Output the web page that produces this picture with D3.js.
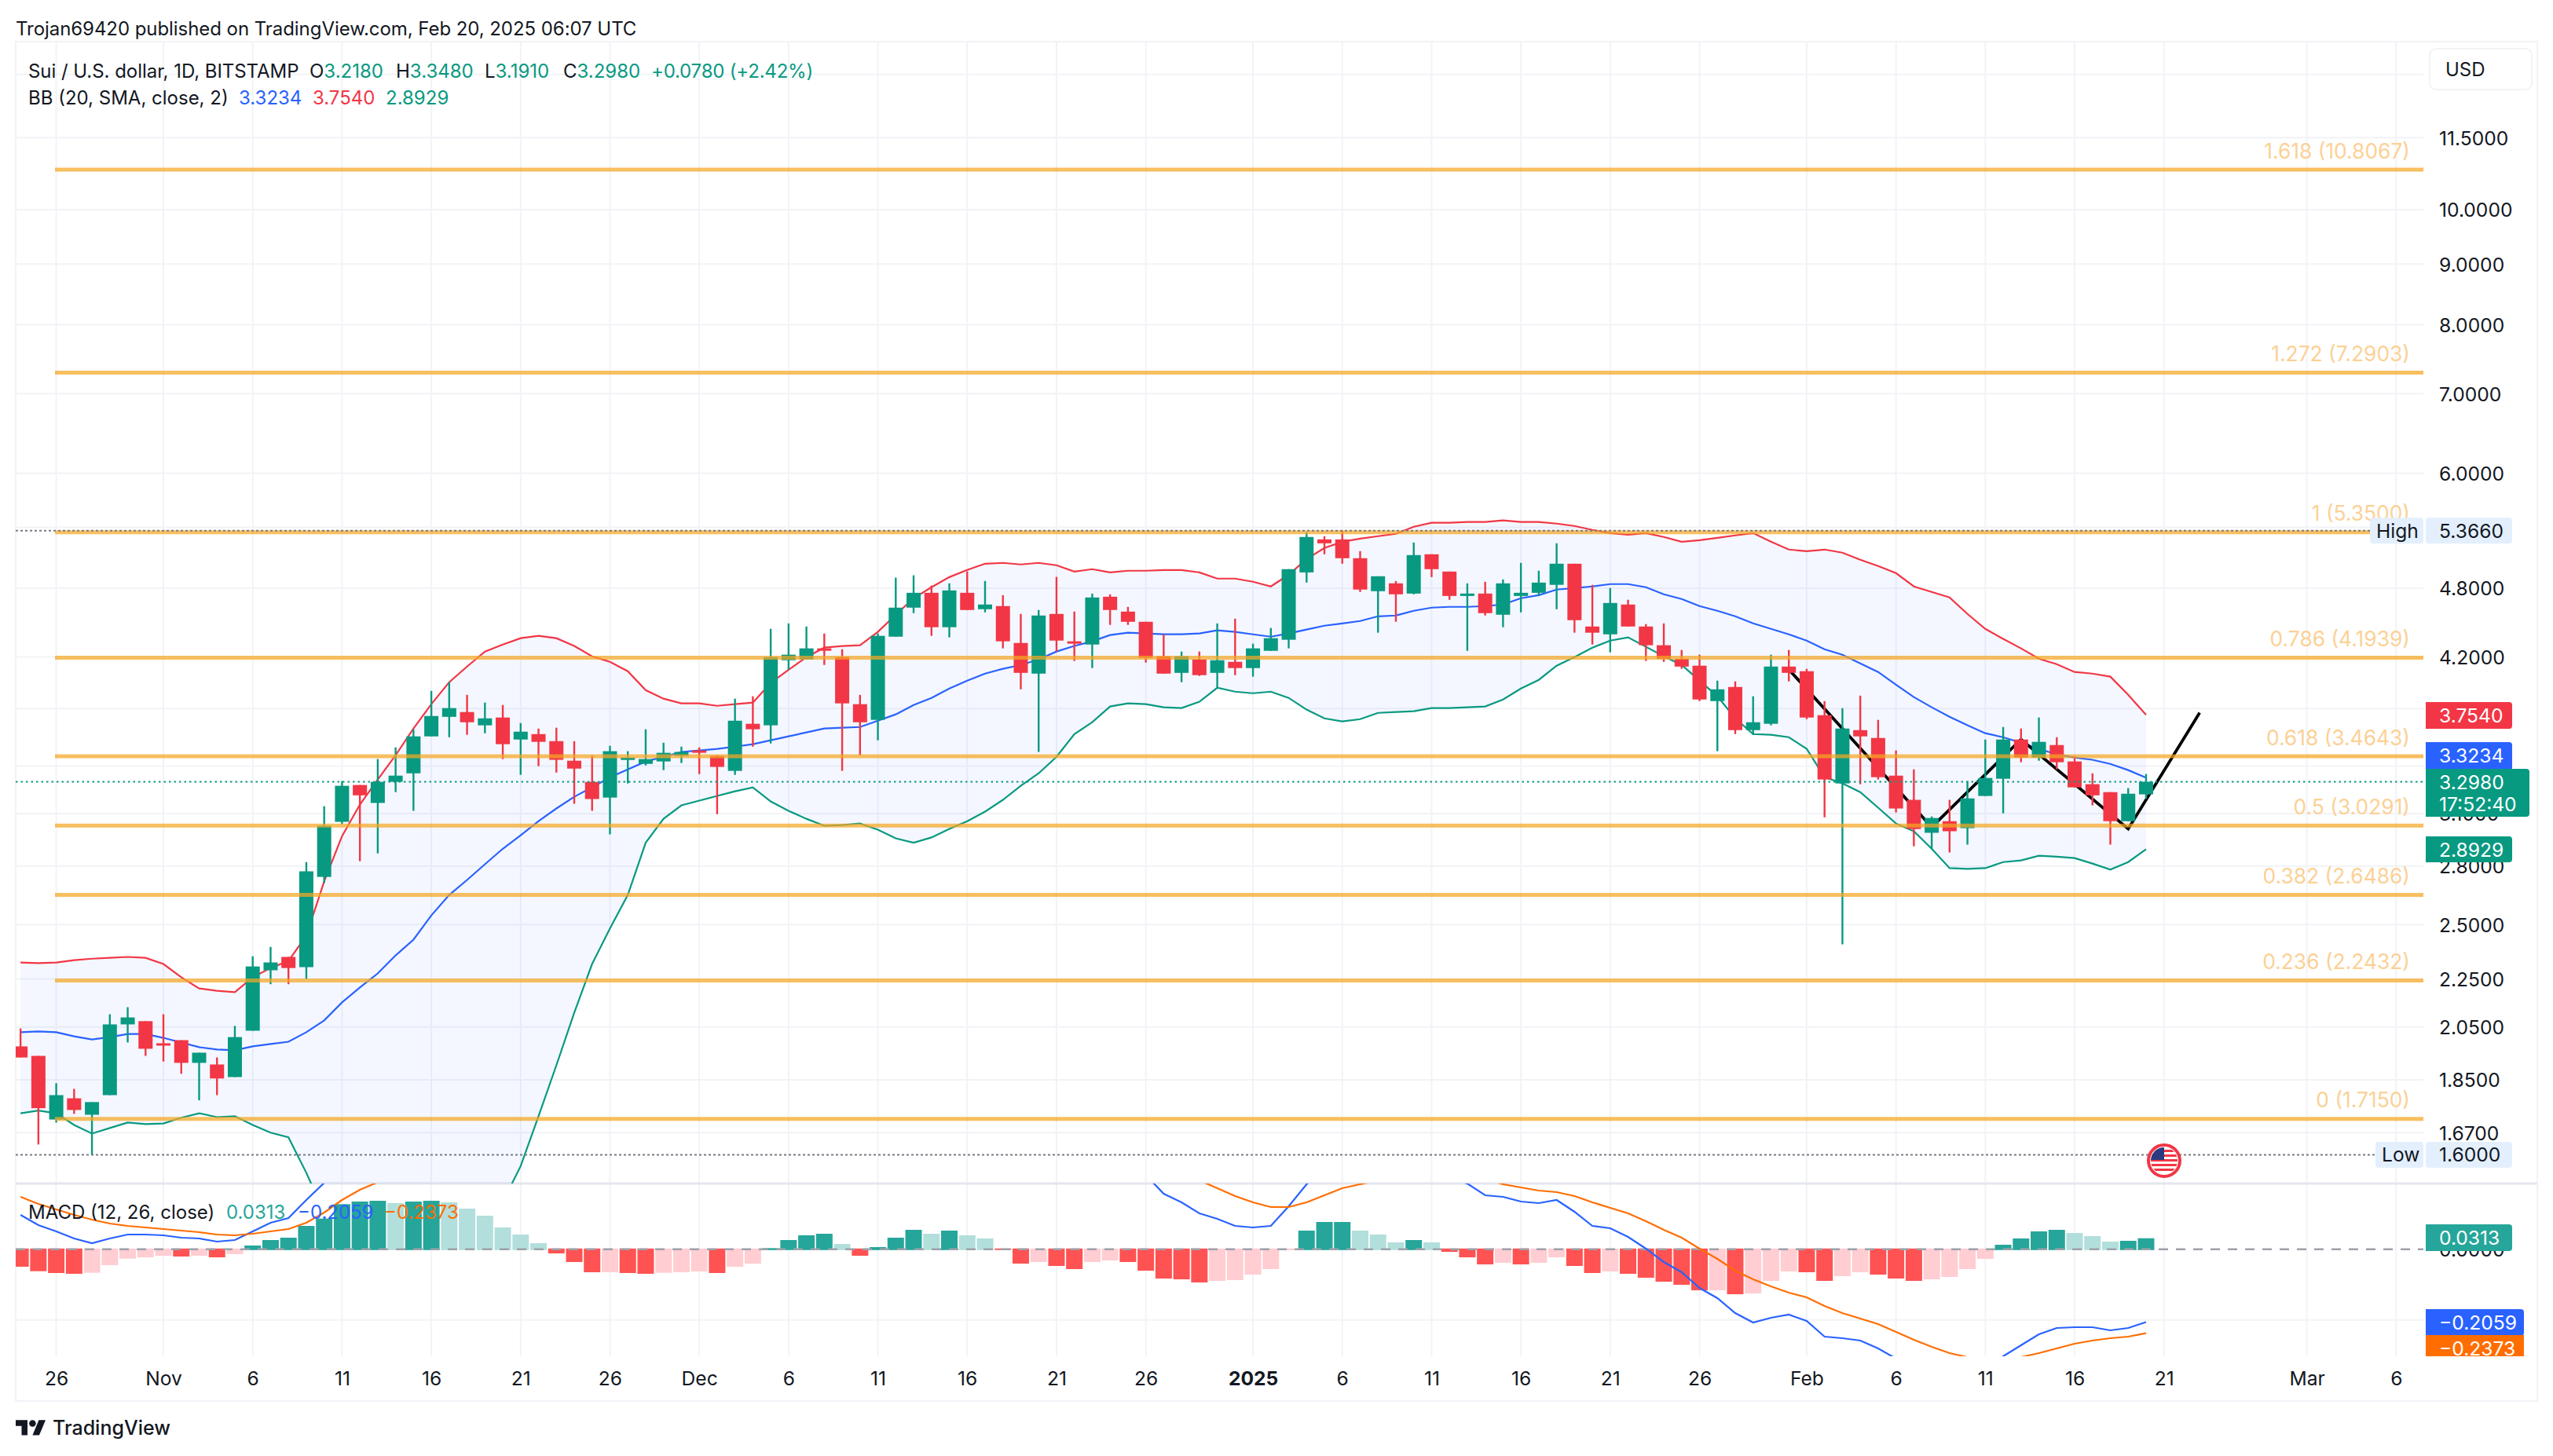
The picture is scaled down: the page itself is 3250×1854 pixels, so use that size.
<!DOCTYPE html>
<html><head><meta charset="utf-8">
<script src="https://cdn.jsdelivr.net/npm/d3@7"></script>
<style>html,body{margin:0;padding:0;background:#fff}svg{display:block}text{font-family:Inter,"Noto Sans",sans-serif}</style>
</head><body><svg id="c" width="3250" height="1854"></svg>
<script>
// ---- data (first bar is 24 Oct 2024, one bar per day) ----
const firstDay = "2024-10-24";
const opens = [1.974,1.938,1.713,1.785,1.729,1.796,2.060,2.073,1.986,1.998,1.912,1.906,1.860,2.035,2.288,2.348,2.302,2.742,3.051,3.277,3.165,3.297,3.352,3.601,3.740,3.775,3.679,3.735,3.579,3.617,3.568,3.435,3.297,3.198,3.446,3.414,3.430,3.467,3.504,3.467,3.368,3.690,3.679,4.174,4.180,4.271,4.199,3.833,3.718,4.369,4.622,4.757,4.450,4.757,4.608,4.636,4.316,4.067,4.566,4.330,4.303,4.721,4.587,4.497,4.206,4.073,4.180,4.073,4.161,4.111,4.251,4.343,4.949,5.276,5.276,5.087,4.772,4.845,4.750,5.126,4.957,4.728,4.750,4.559,4.728,4.757,4.831,5.033,4.456,4.389,4.650,4.456,4.297,4.186,4.130,3.856,3.963,3.645,3.690,4.123,4.086,3.752,3.287,3.645,3.590,3.337,3.184,2.987,3.055,3.014,3.208,3.317,3.579,3.456,3.541,3.430,3.282,3.232,3.055,3.218];
const highs = [2.044,1.938,1.838,1.818,1.772,2.101,2.130,2.073,2.101,1.998,1.950,1.932,2.054,2.351,2.394,2.348,2.822,3.145,3.302,3.277,3.446,3.525,3.651,3.933,4.000,3.903,3.845,3.827,3.695,3.656,3.662,3.568,3.472,3.536,3.499,3.651,3.557,3.530,3.525,3.472,3.874,3.892,4.436,4.483,4.456,4.396,4.264,3.903,4.396,4.899,4.921,4.824,4.845,4.958,4.867,4.735,4.566,4.601,4.906,4.587,4.750,4.743,4.629,4.497,4.389,4.245,4.245,4.483,4.524,4.310,4.443,4.980,5.350,5.309,5.366,5.157,4.912,4.867,5.244,5.126,4.957,4.845,4.860,4.882,5.041,4.965,5.236,5.033,4.831,4.801,4.693,4.477,4.483,4.258,4.219,4.012,4.006,3.892,4.219,4.258,4.105,3.856,3.804,3.897,3.718,3.504,3.378,3.083,3.184,3.302,3.579,3.667,3.656,3.735,3.595,3.467,3.352,3.232,3.257,3.348];
const lows = [1.932,1.632,1.703,1.732,1.600,1.796,1.989,1.938,1.917,1.872,1.778,1.796,1.860,2.035,2.227,2.227,2.250,2.710,3.037,2.827,2.870,3.232,3.117,3.601,3.595,3.612,3.623,3.446,3.342,3.399,3.357,3.160,3.117,2.978,3.287,3.404,3.373,3.420,3.347,3.097,3.342,3.530,3.552,4.098,4.180,4.136,3.368,3.472,3.574,4.369,4.573,4.376,4.363,4.601,4.580,4.271,3.945,3.494,4.245,4.168,4.111,4.470,4.470,4.155,4.067,4.000,4.049,3.957,4.055,4.043,4.251,4.271,4.852,5.126,5.033,4.765,4.403,4.497,4.743,4.904,4.693,4.251,4.552,4.450,4.580,4.728,4.608,4.403,4.303,4.238,4.456,4.168,4.161,4.105,3.856,3.499,3.617,3.612,3.679,4.006,3.723,3.078,2.406,3.282,3.312,3.107,2.910,2.892,2.875,2.919,3.208,3.102,3.425,3.435,3.378,3.262,3.150,2.919,3.055,3.191];
const closes = [1.932,1.751,1.796,1.745,1.772,2.060,2.088,1.965,1.980,1.912,1.950,1.855,2.010,2.305,2.323,2.298,2.772,3.028,3.272,3.212,3.297,3.337,3.601,3.746,3.804,3.701,3.729,3.547,3.634,3.563,3.441,3.383,3.189,3.499,3.456,3.446,3.488,3.494,3.494,3.394,3.712,3.651,4.199,4.219,4.271,4.258,3.839,3.701,4.376,4.622,4.757,4.450,4.779,4.601,4.650,4.330,4.073,4.552,4.336,4.316,4.714,4.601,4.497,4.193,4.067,4.206,4.055,4.174,4.111,4.271,4.356,4.980,5.301,5.236,5.087,4.787,4.912,4.743,5.118,4.980,4.728,4.750,4.573,4.845,4.757,4.852,5.033,4.511,4.403,4.664,4.456,4.297,4.186,4.123,3.868,3.945,3.645,3.701,4.123,4.073,3.735,3.312,3.656,3.601,3.327,3.131,3.009,3.074,2.996,3.193,3.322,3.579,3.456,3.563,3.425,3.262,3.212,3.055,3.222,3.298];
const bbUpper = [2.323,2.320,2.323,2.333,2.340,2.344,2.348,2.344,2.316,2.257,2.209,2.199,2.193,2.257,2.298,2.330,2.447,2.718,2.968,3.155,3.312,3.472,3.656,3.833,4.000,4.123,4.245,4.303,4.356,4.376,4.356,4.291,4.206,4.161,4.086,3.939,3.874,3.839,3.839,3.821,3.833,3.845,3.994,4.098,4.199,4.277,4.291,4.297,4.410,4.559,4.707,4.809,4.904,4.972,5.033,5.041,5.026,5.041,5.018,4.957,4.980,4.949,4.965,4.965,4.972,4.972,4.949,4.890,4.890,4.860,4.816,4.927,5.079,5.189,5.252,5.284,5.309,5.333,5.407,5.449,5.449,5.457,5.457,5.474,5.457,5.457,5.440,5.415,5.374,5.341,5.325,5.341,5.301,5.252,5.268,5.292,5.317,5.341,5.252,5.173,5.157,5.173,5.142,5.072,5.010,4.942,4.816,4.765,4.714,4.566,4.436,4.350,4.271,4.186,4.142,4.080,4.067,4.043,3.903,3.754];
const bbBasis = [2.029,2.032,2.029,2.013,2.001,2.010,2.022,2.022,2.007,1.989,1.971,1.962,1.959,1.974,1.983,1.992,2.029,2.076,2.150,2.213,2.274,2.355,2.428,2.545,2.648,2.726,2.810,2.896,2.973,3.055,3.131,3.203,3.262,3.327,3.378,3.430,3.461,3.494,3.504,3.515,3.530,3.547,3.574,3.601,3.629,3.656,3.662,3.667,3.712,3.758,3.827,3.880,3.951,4.012,4.067,4.105,4.136,4.180,4.245,4.291,4.330,4.383,4.403,4.396,4.389,4.389,4.396,4.423,4.410,4.389,4.369,4.396,4.430,4.463,4.483,4.504,4.545,4.552,4.594,4.622,4.629,4.629,4.636,4.650,4.707,4.735,4.787,4.801,4.816,4.838,4.838,4.809,4.743,4.700,4.636,4.594,4.545,4.483,4.436,4.389,4.336,4.264,4.219,4.148,4.080,3.981,3.886,3.810,3.740,3.679,3.623,3.595,3.557,3.515,3.477,3.456,3.441,3.414,3.373,3.3234];
const bbLower = [1.734,1.743,1.734,1.695,1.667,1.685,1.703,1.698,1.700,1.719,1.734,1.721,1.724,1.695,1.670,1.655,1.545,1.43,1.35,1.29,1.25,1.24,1.19,1.26,1.30,1.32,1.365,1.46,1.565,1.724,1.903,2.107,2.316,2.481,2.648,2.930,3.069,3.150,3.179,3.208,3.237,3.262,3.174,3.117,3.069,3.028,3.032,3.041,3.005,2.955,2.930,2.960,3.009,3.055,3.112,3.184,3.272,3.352,3.461,3.617,3.701,3.816,3.839,3.833,3.810,3.804,3.851,3.957,3.927,3.915,3.927,3.880,3.793,3.729,3.707,3.723,3.769,3.775,3.781,3.804,3.804,3.810,3.816,3.868,3.951,4.018,4.130,4.199,4.277,4.336,4.363,4.284,4.206,4.136,4.012,3.892,3.729,3.617,3.612,3.595,3.515,3.327,3.287,3.232,3.136,3.041,2.996,2.896,2.789,2.785,2.789,2.822,2.831,2.857,2.852,2.844,2.814,2.781,2.822,2.8929];
const macdLine = [.0973,.0684,.0507,.0307,.0173,.0307,.0418,.0418,.0396,.0329,.0307,.0218,.0262,.0507,.0751,.0884,.1396,.188,.267,.303,.327,.356,.395,.432,.463,.475,.48,.462,.452,.432,.398,.364,.32,.305,.288,.271,.259,.245,.237,.218,.226,.225,.268,.296,.32,.334,.31,.272,.296,.333,.365,.364,.388,.385,.381,.348,.30,.294,.273,.254,.264,.258,.244,.21,.1573,.1329,.1018,.0862,.0662,.0618,.0662,.1218,.184,.23,.25,.237,.237,.225,.236,.235,.203,.186,.1529,.1484,.1351,.1307,.1396,.1062,.0662,.0596,.0351,.0018,-.036,-.0649,-.1093,-.1382,-.1804,-.2071,-.1938,-.1849,-.2027,-.2471,-.2516,-.2582,-.2804,-.3093,-.3427,-.365,-.376,-.376,-.343,-.3027,-.2716,-.2404,-.2227,-.2204,-.2204,-.2293,-.2227,-.2059];
const signalLine = [.1484,.1284,.1129,.0973,.084,.0729,.0662,.0618,.0573,.0529,.0484,.0418,.0396,.044,.0507,.0573,.0751,.104,.1396,.1684,.19,.225,.26,.295,.33,.36,.385,.40,.41,.415,.41,.40,.385,.37,.355,.34,.325,.31,.30,.285,.275,.265,.265,.27,.28,.29,.295,.29,.29,.30,.31,.32,.335,.345,.35,.35,.34,.33,.32,.31,.30,.29,.28,.27,.25,.22,.195,.1729,.1507,.1329,.1196,.1196,.1329,.1529,.1729,.184,.195,.205,.21,.215,.21,.209,.20,.184,.1751,.1662,.1618,.1507,.1329,.1173,.1018,.0796,.0551,.0329,.0018,-.0271,-.0604,-.0849,-.1049,-.1227,-.136,-.1604,-.1804,-.196,-.2116,-.2338,-.256,-.276,-.2938,-.3049,-.3116,-.3138,-.3049,-.2938,-.2804,-.2671,-.2582,-.2516,-.2471,-.2373];
const macdHist = [-.0493,-.0619,-.0671,-.0693,-.0664,-.0449,-.0264,-.0227,-.0182,-.0204,-.0182,-.0227,-.0138,.0107,.0262,.0329,.0662,.0870,.1277,.1351,.1373,.1307,.1351,.1373,.1329,.1151,.0951,.0618,.0418,.0173,-.0116,-.0360,-.0649,-.0649,-.0671,-.0693,-.0664,-.0649,-.0627,-.0671,-.0493,-.0404,.0033,.0262,.0396,.0440,.0151,-.0182,.0062,.0329,.0551,.0440,.0529,.0396,.0307,-.0019,-.0404,-.0360,-.0471,-.0560,-.0360,-.0316,-.0360,-.0604,-.0827,-.0849,-.0938,-.0893,-.0871,-.0716,-.0560,-.0027,.0529,.0773,.0773,.0529,.0418,.0196,.0262,.0196,-.0071,-.0227,-.0427,-.0382,-.0427,-.0382,-.0227,-.0471,-.0671,-.0627,-.0693,-.0804,-.0916,-.1004,-.1160,-.1160,-.1271,-.1249,-.0893,-.0627,-.0649,-.0893,-.0760,-.0649,-.0716,-.0827,-.0893,-.0849,-.0782,-.0560,-.0271,.0129,.0307,.0507,.0551,.0462,.0373,.0218,.0240,.0313];
const fibLevels = [1.618,1.272,1,0.786,0.618,0.5,0.382,0.236,0];
const fibPrices = [10.8067,7.2903,5.35,4.1939,3.4643,3.0291,2.6486,2.2432,1.715];
const priceTicks = [13,11.5,10,9,8,7,6,5.4,4.8,4.2,3.8,3.4,3.1,2.8,2.5,2.25,2.05,1.85,1.67];
const macdTicks = [0,-0.2];
const dateTicks = ["2024-10-26","2024-11-01","2024-11-06","2024-11-11","2024-11-16","2024-11-21","2024-11-26","2024-12-01","2024-12-06","2024-12-11","2024-12-16","2024-12-21","2024-12-26","2025-01-01","2025-01-06","2025-01-11","2025-01-16","2025-01-21","2025-01-26","2025-02-01","2025-02-06","2025-02-11","2025-02-16","2025-02-21","2025-03-01","2025-03-06"];
const dateLabels = ["26","Nov","6","11","16","21","26","Dec","6","11","16","21","26","2025","6","11","16","21","26","Feb","6","11","16","21","Mar","6"];
const patternDates = ["2025-01-31","2025-02-08","2025-02-13","2025-02-19","2025-02-23"];
const patternPrices = [4.10,3.02,3.58,3.01,3.77];
const highPrice = 5.366, lowPrice = 1.6, lastClose = 3.298;

// ---- layout ----
const L=20,R=3085,F=3230,T=53,M=1507,P=1727,B=1784,AX=3105,BX=3088;
const GREEN="#089981",RED="#f23645",BLUE="#2962ff",ORANGE="#ff6d00",INK="#131722",GRID="#f1f3f7",TEAL="#26a69a";
const FS=24, AFS=24.6;
const parse=d3.utcParse("%Y-%m-%d");
const days=d3.utcDay.range(parse(firstDay),d3.utcDay.offset(parse(firstDay),opens.length));
const x=d3.scaleUtc().domain([parse("2024-10-26"),parse("2025-02-21")]).range([71.6,2754.7]);
const y=d3.scaleLog().domain([10.8067,1.715]).range([216,1424.8]);
const ym=d3.scaleLinear().domain([0,-0.2]).range([1590.8,1680.8]);
const svg=d3.select("#c");
const defs=svg.append("defs");
defs.append("clipPath").attr("id","mainClip").append("rect").attr("x",L).attr("y",T).attr("width",R-L).attr("height",M-T);
defs.append("clipPath").attr("id","macdClip").append("rect").attr("x",L).attr("y",M).attr("width",R-L).attr("height",P-M);

// grid
const grid=svg.append("g").attr("stroke",GRID).attr("stroke-width",2);
grid.selectAll(".v").data(dateTicks).join("line").attr("x1",d=>x(parse(d))).attr("x2",d=>x(parse(d))).attr("y1",T).attr("y2",P);
grid.selectAll(".h").data(priceTicks).join("line").attr("x1",L).attr("x2",R).attr("y1",d=>y(d)).attr("y2",d=>y(d));
grid.selectAll(".m").data(macdTicks.slice(1)).join("line").attr("x1",L).attr("x2",R).attr("y1",d=>ym(d)).attr("y2",d=>ym(d));
// frame
const frame=svg.append("g").attr("stroke",GRID).attr("stroke-width",2).attr("fill","none");
frame.append("rect").attr("x",L).attr("y",T).attr("width",F-L).attr("height",B-T);
svg.append("line").attr("x1",L).attr("x2",F).attr("y1",M).attr("y2",M).attr("stroke","#e4e6ee").attr("stroke-width",3);

// main pane
const main=svg.append("g").attr("clip-path","url(#mainClip)");
const idx=d3.range(opens.length);
main.append("path").datum(idx).attr("fill","rgba(41,98,255,0.05)")
  .attr("d",d3.area().x(i=>x(days[i])).y0(i=>y(bbLower[i])).y1(i=>y(bbUpper[i])));
svg.append("g").selectAll("line").data(fibPrices).join("line")
  .attr("x1",70).attr("x2",R).attr("y1",d=>y(d)).attr("y2",d=>y(d))
  .attr("stroke","#f5a623").attr("stroke-opacity",.72).attr("stroke-width",5);
const lineOf=arr=>d3.line().x(i=>x(days[i])).y(i=>y(arr[i]));
[[bbUpper,RED],[bbBasis,BLUE],[bbLower,GREEN]].forEach(([a,c])=>{
  main.append("path").datum(idx).attr("fill","none").attr("stroke",c).attr("stroke-width",2.2).attr("d",lineOf(a));
});
main.append("path").datum(d3.range(patternDates.length)).attr("fill","none").attr("stroke","#000").attr("stroke-width",3.8)
  .attr("stroke-linejoin","miter").attr("d",d3.line().x(i=>x(parse(patternDates[i]))).y(i=>y(patternPrices[i])));
const colorOf=i=>closes[i]>=opens[i]?GREEN:RED;
main.selectAll(".wick").data(idx).join("line").attr("x1",i=>x(days[i])).attr("x2",i=>x(days[i]))
  .attr("y1",i=>y(highs[i])).attr("y2",i=>y(lows[i])).attr("stroke",colorOf).attr("stroke-width",2.4);
main.selectAll(".body").data(idx).join("rect").attr("x",i=>x(days[i])-9).attr("width",18)
  .attr("y",i=>y(Math.max(opens[i],closes[i])))
  .attr("height",i=>Math.max(3,y(Math.min(opens[i],closes[i]))-y(Math.max(opens[i],closes[i]))))
  .attr("fill",colorOf);

// dotted lines
const dotted=(py,c,dash)=>svg.append("line").attr("x1",L).attr("x2",R).attr("y1",py).attr("y2",py).attr("stroke",c).attr("stroke-width",2).attr("stroke-dasharray",dash);
dotted(y(highPrice),"#787b86","3 3");
dotted(y(lowPrice),"#787b86","3 3");
dotted(y(lastClose),GREEN,"2.5 4");

// fib labels
svg.append("g").selectAll("text").data(fibPrices).join("text")
  .attr("x",3068).attr("y",d=>y(d)-24).attr("dy",".36em").attr("text-anchor","end")
  .attr("font-size",26.4).attr("fill","#fbd196")
  .text((d,i)=>`${fibLevels[i]} (${d.toFixed(4)})`);

// MACD pane
const macd=svg.append("g").attr("clip-path","url(#macdClip)");
const histColor=i=>{const v=macdHist[i],p=i?macdHist[i-1]:Infinity;
  if(v>=0) return v>=p?TEAL:"#b2dfdb";
  return v<p||!i?"#ff5252":"#ffcdd2";};
macd.selectAll("rect").data(idx).join("rect").attr("x",i=>x(days[i])-10.5).attr("width",21)
  .attr("y",i=>macdHist[i]>=0?ym(macdHist[i]):ym(0)-1)
  .attr("height",i=>macdHist[i]>=0?ym(0)+1-ym(macdHist[i]):ym(macdHist[i])-ym(0)+1)
  .attr("fill",histColor);
macd.append("line").attr("x1",L).attr("x2",R).attr("y1",ym(0)).attr("y2",ym(0)).attr("stroke","#9ea1aa").attr("stroke-width",2.5).attr("stroke-dasharray","12 10");
[[macdLine,BLUE],[signalLine,ORANGE]].forEach(([a,c])=>{
  macd.append("path").datum(idx).attr("fill","none").attr("stroke",c).attr("stroke-width",2.2)
    .attr("d",d3.line().x(i=>x(days[i])).y(i=>ym(a[i])));
});

// axes
const fmt=d=>d3.format(".4f")(d).replace("-","\u2212");
const clean=(g,fs)=>{g.select(".domain").remove();g.selectAll(".tick line").remove();
  g.selectAll("text").attr("font-size",fs).attr("fill",INK).attr("font-family",'Inter,"Noto Sans",sans-serif');};
svg.append("g").attr("transform",`translate(${AX},1)`).call(d3.axisRight(y).tickValues(priceTicks).tickFormat(fmt).tickSize(0).tickPadding(0)).call(clean,AFS);
svg.append("g").attr("transform",`translate(${AX},1)`).call(d3.axisRight(ym).tickValues(macdTicks).tickFormat(fmt).tickSize(0).tickPadding(0)).call(clean,AFS);
const xg=svg.append("g").attr("transform","translate(0,1747)");
xg.call(d3.axisBottom(x).tickValues(dateTicks.map(parse)).tickFormat((d,i)=>dateLabels[i]).tickSize(0).tickPadding(0)).call(clean,AFS);
xg.selectAll("text").attr("font-weight",(d,i)=>dateLabels[i]==="2025"?700:400);

// right labels
const box=(px,py,w,h,fill)=>svg.append("path").attr("fill",fill)
  .attr("d",`M${px},${py}h${w-4}a4,4 0 0 1 4,4v${h-8}a4,4 0 0 1 -4,4h${-(w-4)}z`);
const label=(tx,py,t,c,a,fs,sp)=>svg.append("text").attr("x",tx).attr("y",py).attr("dy",".36em").attr("font-size",fs||AFS).attr("letter-spacing",sp||0).attr("fill",c).attr("text-anchor",a||"start").text(t);
// High / Low
[[highPrice,"High"],[lowPrice,"Low"]].forEach(([v,t])=>{
  const py=y(v);
  svg.append("rect").attr("x",t==="High"?3017:3024).attr("y",py-16.5).attr("width",t==="High"?68:61).attr("height",33).attr("rx",4).attr("fill","#e3effd");
  svg.append("rect").attr("x",BX).attr("y",py-16.5).attr("width",110).attr("height",33).attr("rx",4).attr("fill","#e3effd");
  label(t==="High"?3025:3032,py,t,INK);
  label(AX,py,d3.format(".4f")(v),INK);
});
box(BX,894,110,34,RED); label(AX,911,"3.7540","#fff");
box(BX,945,110,36,BLUE); label(AX,962,"3.3234","#fff");
box(BX,979,132,61,GREEN); label(AX,996,"3.2980","#fff"); label(AX,1024,"17:52:40","#fff");
box(BX,1065,110,33,GREEN); label(AX,1082,"2.8929","#fff");
box(BX,1559,110,34,TEAL); label(AX,1576,"0.0313","#fff");
box(BX,1667,125,34,BLUE); label(AX,1684,"\u22120.2059","#fff");
svg.append("rect").attr("x",BX).attr("y",1700).attr("width",125).attr("height",27).attr("fill",ORANGE);
label(AX,1717,"\u22120.2373","#fff");

// USD button
svg.append("rect").attr("x",3093).attr("y",62).attr("width",130).attr("height",52).attr("rx",8).attr("fill","#fff").attr("stroke",GRID).attr("stroke-width",2);
label(3113,88,"USD",INK,null,FS);

// titles
label(20,36,"Trojan69420 published on TradingView.com, Feb 20, 2025 06:07 UTC",INK,null,FS,-0.06);
label(36,90,"Sui / U.S. dollar, 1D, BITSTAMP",INK,null,FS,-0.04);
[[394,"O","3.2180"],[504,"H","3.3480"],[617,"L","3.1910"],[717,"C","3.2980"]].forEach(([px,k,v])=>{
  const t=svg.append("text").attr("x",px).attr("y",90).attr("dy",".36em").attr("font-size",FS).attr("fill",INK);
  t.append("tspan").text(k);
  t.append("tspan").attr("fill",GREEN).text(v);
});
label(829,90,"+0.0780 (+2.42%)",GREEN,null,FS,-0.2);
label(36,124,"BB (20, SMA, close, 2)",INK,null,FS);
label(304,124,"3.3234",BLUE,null,FS); label(398,124,"3.7540",RED,null,FS); label(491,124,"2.8929",GREEN,null,FS);
label(36,1543,"MACD (12, 26, close)",INK,null,FS);
label(288,1543,"0.0313",TEAL,null,FS); label(379,1543,"\u22120.2059",BLUE,null,FS); label(489,1543,"\u22120.2373",ORANGE,null,FS);

// footer logo
const logo=svg.append("g").attr("transform","translate(20,1804) scale(1.07)").attr("fill",INK);
logo.append("path").attr("d","M14 22H7V11H0V4h14v18zM28 22h-8l7.5-18h8L28 22z");
logo.append("circle").attr("cx",20).attr("cy",8).attr("r",4);
svg.append("text").attr("x",67).attr("y",1818).attr("dy",".36em").attr("font-size",25).attr("font-weight",500).attr("fill",INK).text("TradingView");

// event flag
const f=svg.append("g").attr("transform","translate(2755,1478)");
defs.append("clipPath").attr("id","flagClip").append("circle").attr("r",17);
f.append("circle").attr("r",20).attr("fill","#fff").attr("stroke",RED).attr("stroke-width",4);
const fl=f.append("g").attr("clip-path","url(#flagClip)");
fl.append("rect").attr("x",-17).attr("y",-17).attr("width",34).attr("height",34).attr("fill","#fff");
[-14,-8,-2,4,10].forEach(o=>fl.append("rect").attr("x",-17).attr("y",o).attr("width",34).attr("height",3).attr("fill",RED));
fl.append("rect").attr("x",-17).attr("y",-17).attr("width",17).attr("height",16).attr("fill","#2b3a80");
</script></body></html>
